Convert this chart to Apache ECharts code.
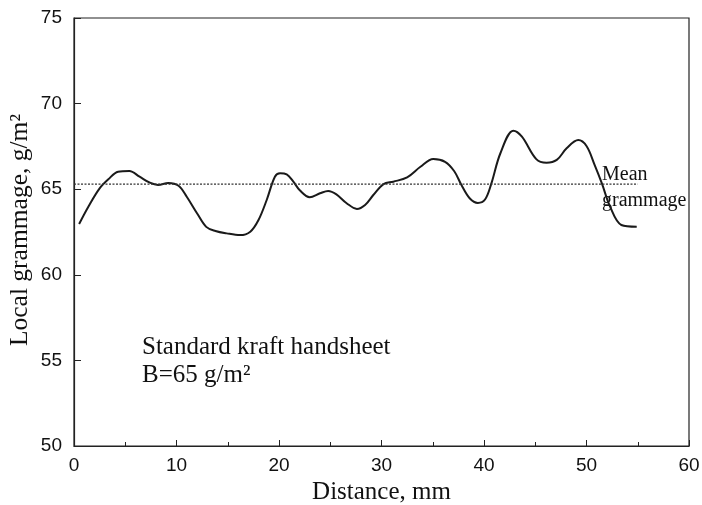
<!DOCTYPE html>
<html><head><meta charset="utf-8">
<script src="https://cdn.jsdelivr.net/npm/echarts@6/dist/echarts.min.js"></script>
<style>html,body{margin:0;padding:0;background:#fff}#c{width:702px;height:505px}</style>
</head><body><div id="c"></div>
<script>
const distance = [0.5,1.4,2.5,3.35,4.3,5.4,6.4,7.4,8.2,9.2,10.2,11.0,12.0,12.9,13.8,14.9,16.2,17.2,18.0,18.8,19.6,20.1,20.75,21.4,22.05,23.0,24.0,24.8,25.6,26.6,27.6,28.4,29.2,30.2,31.15,32.5,33.8,35.05,36.2,37.1,37.8,38.6,39.4,40.1,40.7,41.6,42.86,43.7,45.1,46.1,47.1,48.06,49.2,50.0,50.8,51.5,52.3,53.4,54.9];
const grammage = [62.97,63.98,65.05,65.58,66.02,66.06,65.73,65.38,65.25,65.36,65.2,64.56,63.6,62.8,62.56,62.42,62.32,62.52,63.2,64.37,65.73,65.93,65.87,65.44,64.92,64.53,64.76,64.9,64.7,64.18,63.85,64.08,64.66,65.3,65.44,65.69,66.31,66.76,66.6,66.05,65.24,64.47,64.2,64.4,65.3,67.1,68.42,68.07,66.76,66.55,66.71,67.39,67.87,67.52,66.41,65.34,63.98,62.91,62.81];
const meanX = [0, 55];
const meanY = [65.3, 65.3];
const xTicks = [0,10,20,30,40,50,60];
const yTicks = [50,55,60,65,70,75];

const chart = echarts.init(document.getElementById('c'), null, {renderer:'canvas'});
const serif = '"Liberation Serif","DejaVu Serif",serif';
const sans = '"Liberation Sans",Arial,sans-serif';
chart.setOption({
  animation:false,
  backgroundColor:'#fff',
  grid:{left:74,right:13,top:18,bottom:59,show:true,borderColor:'#222',borderWidth:1.2,outerBoundsMode:'none',containLabel:false},
  xAxis:{type:'value',min:xTicks[0],max:xTicks[xTicks.length-1],interval:10,
    name:'Distance, mm',nameLocation:'middle',nameGap:34,
    nameTextStyle:{fontFamily:serif,fontSize:25,color:'#111'},
    axisLine:{lineStyle:{color:'#222',width:1.2}},
    axisTick:{inside:true,length:6,lineStyle:{color:'#222'}},
    minorTick:{show:true,splitNumber:2,length:4,lineStyle:{color:'#222'}},
    splitLine:{show:false},
    axisLabel:{fontFamily:sans,fontSize:19,color:'#111',margin:10}},
  yAxis:{type:'value',min:yTicks[0],max:yTicks[yTicks.length-1],interval:5,
    axisLine:{show:true,lineStyle:{color:'#222',width:1.2}},
    axisTick:{show:true,inside:true,length:7,lineStyle:{color:'#222'}},
    splitLine:{show:false},
    axisLabel:{fontFamily:sans,fontSize:19,color:'#111',margin:12}},
  series:[
    {type:'line',data:distance.map((d,i)=>[d,grammage[i]]),smooth:0.35,showSymbol:false,
      lineStyle:{color:'#1a1a1a',width:2}},
    {type:'line',data:meanX.map((d,i)=>[d,meanY[i]]),showSymbol:false,
      lineStyle:{color:'#333',width:1.3,type:[2,1.5]}}
  ],
  graphic:[
    {type:'text',x:20,y:230,rotation:Math.PI/2,style:{text:'Local grammage, g/m\u00B2',font:'25.5px '+serif,fill:'#111',align:'center',verticalAlign:'middle'}},
    {type:'text',left:602,top:165,style:{text:'Mean',font:'20px '+serif,fill:'#111'}},
    {type:'text',left:602,top:191,style:{text:'grammage',font:'20px '+serif,fill:'#111'}},
    {type:'text',left:142,top:335,style:{text:'Standard kraft handsheet',font:'25px '+serif,fill:'#111'}},
    {type:'text',left:142,top:363,style:{text:'B=65 g/m\u00B2',font:'25px '+serif,fill:'#111'}}
  ]
});
</script></body></html>
